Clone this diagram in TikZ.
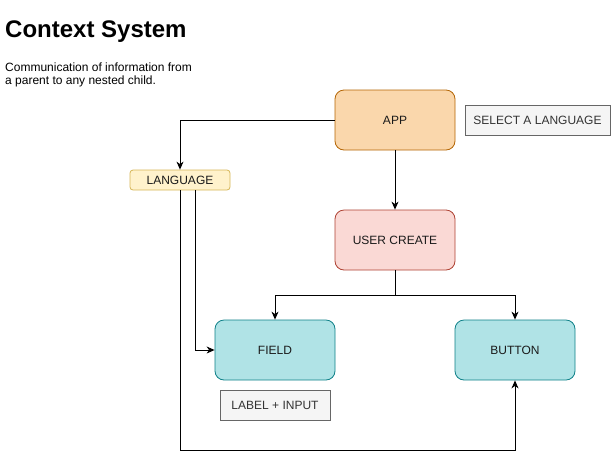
\documentclass[tikz,border=0pt]{standalone}
\usepackage{fontspec}
\setmainfont{Liberation Sans}
\usetikzlibrary{arrows.meta}
\definecolor{appfill}{HTML}{FAD7AC}
\definecolor{appdraw}{HTML}{B46504}
\definecolor{ucfill}{HTML}{FAD9D5}
\definecolor{ucdraw}{HTML}{AE4132}
\definecolor{langfill}{HTML}{FFF2CC}
\definecolor{langdraw}{HTML}{D6B656}
\definecolor{tealfill}{HTML}{B0E3E6}
\definecolor{tealdraw}{HTML}{0E8088}
\definecolor{grayfill}{HTML}{F5F5F5}
\definecolor{graydraw}{HTML}{666666}
\definecolor{graytext}{HTML}{333333}
\definecolor{nodetext}{HTML}{1A1A1A}
\tikzset{
  box/.style={draw, line width=0.8pt, rounded corners=9pt, minimum width=120pt, minimum height=60pt, inner sep=0pt, text=nodetext, font=\fontsize{12}{14}\selectfont},
  notebox/.style={draw=graydraw, fill=grayfill, line width=0.8pt, inner sep=0pt, minimum height=30pt, text=graytext, font=\fontsize{12}{14}\selectfont},
  conn/.style={draw=black, line width=0.9pt, -{Stealth[length=8pt,width=7pt,inset=2.5pt]}},
  plain/.style={draw=black, line width=0.9pt},
}
\begin{document}
\begin{tikzpicture}[x=1pt,y=-1pt]
\useasboundingbox (0,0) rectangle (611,459);
\node[anchor=base west, inner sep=0pt, font=\bfseries\fontsize{24}{28}\selectfont] (title) at (5,37) {Context System};
\node[anchor=base west, inner sep=0pt, align=left, font=\fontsize{12}{13.5}\selectfont] (sub) at (5,84.5) {Communication of information from\\a parent to any nested child.};

\node[box, fill=appfill, draw=appdraw] (app) at (395,120) {APP};
\node[box, fill=ucfill, draw=ucdraw] (uc) at (395,240) {USER CREATE};
\node[box, fill=tealfill, draw=tealdraw] (field) at (275,350) {FIELD};
\node[box, fill=tealfill, draw=tealdraw] (button) at (515,350) {BUTTON};
\node[draw=langdraw, fill=langfill, line width=0.8pt, rounded corners=3pt, minimum width=100pt, minimum height=20pt, inner sep=0pt, text=nodetext, font=\fontsize{12}{14}\selectfont] (lang) at (180,180) {LANGUAGE};
\node[notebox, minimum width=145pt] (sel) at (537.5,120) {SELECT A LANGUAGE};
\node[notebox, minimum width=110pt] (li) at (275,405) {LABEL + INPUT};

\coordinate (j1) at (180,120);
\coordinate (split) at (395,295);
\coordinate (fl) at (275,295);
\coordinate (br) at (515,295);
\coordinate (l2) at (195,350);
\coordinate (l1) at (180,450);
\coordinate (b1) at (515,450);

\draw[conn] (app.west) -- (j1) -- (lang.north);
\draw[conn] (app.south) -- (uc.north);
\draw[plain] (uc.south) -- (split);
\draw[conn] (split) -- (fl) -- (field.north);
\draw[conn] (split) -- (br) -- (button.north);
\draw[conn] (lang.south -| l2) -- (l2) -- (field.west);
\draw[conn] (lang.south) -- (l1) -- (b1) -- (button.south);
\end{tikzpicture}
\end{document}
